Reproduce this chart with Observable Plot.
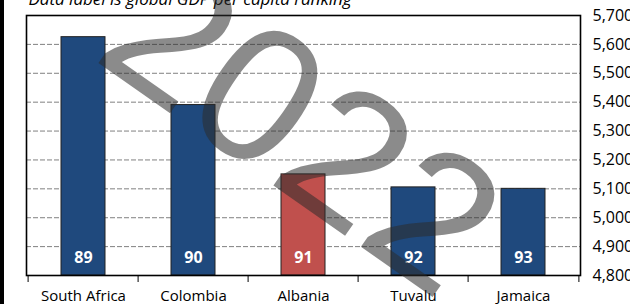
<!DOCTYPE html>
<html>
<head>
<meta charset="utf-8">
<script src="https://cdn.jsdelivr.net/npm/d3@7"></script>
<script src="https://cdn.jsdelivr.net/npm/@observablehq/plot@0.6"></script>
<style>
  html, body { margin: 0; padding: 0; background: #fff; }
  #wrap { position: relative; width: 630px; height: 304px; overflow: hidden; }
  #edge { position: absolute; left: 0; top: 0; width: 4px; height: 304px; background: #000; }
</style>
</head>
<body>
<div id="wrap"><div id="chart"></div><div id="edge"></div></div>
<script>
const categories = ["South Africa", "Colombia", "Albania", "Tuvalu", "Jamaica"];
const gdpPerCapita = [5625, 5390, 5150, 5105, 5100];
const ranks = [89, 90, 91, 92, 93];
const highlighted = "Albania";
const yTicks = [4800, 4900, 5000, 5100, 5200, 5300, 5400, 5500, 5600, 5700];
const subtitle = "Data label is global GDP per capita ranking";
const watermark = "2022";

const data = categories.map((c, i) => ({country: c, gdp: gdpPerCapita[i], rank: ranks[i]}));

const W = 630, H = 304, mL = 26, mR = 50, mT = 15, mB = 29;
const step = (W - mL - mR) / categories.length;
const yMin = yTicks[0];

const chart = Plot.plot({
  width: W, height: H,
  marginLeft: mL, marginRight: mR, marginTop: mT, marginBottom: mB,
  style: {fontFamily: "Open Sans", background: "white", color: "#000"},
  x: {domain: categories, paddingInner: 0.6, paddingOuter: 0.3, axis: null},
  y: {domain: [yTicks[0], yTicks[yTicks.length - 1]], axis: null},
  marks: [
    Plot.ruleY(yTicks.slice(1, -1), {stroke: "#808080", strokeDasharray: "5,2", strokeWidth: 1}),
    Plot.barY(data, {
      x: "country", y1: () => yMin, y2: "gdp",
      fill: d => d.country === highlighted ? "#c0504d" : "#1f497d",
      stroke: "#222", strokeWidth: 1
    }),
    Plot.text(data, {
      x: "country", text: d => String(d.rank), frameAnchor: "bottom", dy: -13,
      fill: "white", fontWeight: "bold", fontSize: 16
    }),
    Plot.frame({stroke: "#000", strokeWidth: 1.6}),
    Plot.axisY(yTicks, {anchor: "right", label: null, tickSize: 0, tickPadding: 12, tickFormat: d3.format(","), fontSize: 16, textAnchor: "start"}),
    Plot.axisX({anchor: "bottom", label: null, tickSize: 0, tickPadding: 15, fontSize: 15}),
    Plot.axisX(categories, {anchor: "bottom", label: null, tickSize: 7, tickFormat: () => "", dx: -step / 2, stroke: "#000"}),
    Plot.axisX([categories[categories.length - 1]], {anchor: "bottom", label: null, tickSize: 7, tickFormat: () => "", dx: step / 2, stroke: "#000"}),
    Plot.text([subtitle], {text: d => d, frameAnchor: "top-left", dx: 2, dy: -11, lineAnchor: "bottom", textAnchor: "start", fontStyle: "italic", fontSize: 17, fill: "#000"}),
    Plot.text([watermark], {
      text: d => d, frameAnchor: "top-left", dx: 64, dy: 42,
      rotate: 35, fontSize: 192, fontFamily: "Liberation Sans",
      textAnchor: "start", lineAnchor: "bottom", fill: "#2b2b2b", fillOpacity: 0.55
    })
  ]
});
document.getElementById("chart").appendChild(chart);
</script>
</body>
</html>
